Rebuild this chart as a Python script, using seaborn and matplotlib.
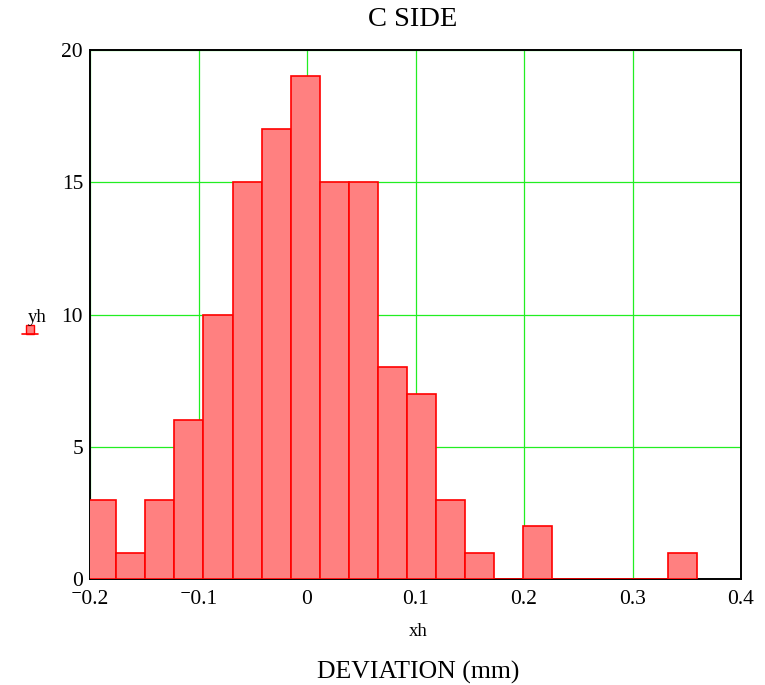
import matplotlib
matplotlib.use("Agg")
import matplotlib.pyplot as plt
import seaborn as sns
import numpy as np
import pandas as pd
from matplotlib.patches import Rectangle

sns.set_style("white")
plt.rcParams['font.family'] = ['Liberation Serif', 'DejaVu Serif']
plt.rcParams['text.color'] = 'black'

# Data
bin_start = -0.2024
bin_width = 0.02675
counts = [3, 1, 3, 6, 10, 15, 17, 19, 15, 15, 8, 7, 3, 1, 0, 2, 0, 0, 0, 0, 1]
x_ticks = [-0.2, -0.1, 0, 0.1, 0.2, 0.3, 0.4]
x_tick_labels = ["\u207b0.2", "\u207b0.1", "0", "0.1", "0.2", "0.3", "0.4"]
y_ticks = [0, 5, 10, 15, 20]
title = "C SIDE"
x_label = "xh"
x_caption = "DEVIATION (mm)"
y_label = "yh"

n_bins = len(counts)
bin_end = bin_start + bin_width * n_bins
centers = bin_start + bin_width * (np.arange(n_bins) + 0.5)
df = pd.DataFrame({"xh": centers, "yh": np.array(counts, dtype=float)})

fig = plt.figure(figsize=(7.65, 6.85), dpi=100)
ax = fig.add_axes([90/765, 1-579/685, (741-90)/765, (579-50)/685])

sns.histplot(data=df, x="xh", weights="yh", bins=n_bins,
             binrange=(bin_start, bin_end), ax=ax,
             color="#ff8080", edgecolor="#ff0000", linewidth=1.2, alpha=1.0,
             zorder=3)

ax.set_xlim(-0.2, 0.4)
ax.set_ylim(0, 20)
ax.set_xticks(x_ticks)
ax.set_xticklabels(x_tick_labels)
ax.set_yticks(y_ticks)
ax.tick_params(axis='both', length=0, labelsize=15.5, colors='black',
               labelcolor='black')
ax.tick_params(axis='y', pad=5)
ax.tick_params(axis='x', pad=8)
ax.grid(True, color="#22ee22", linewidth=0.9, zorder=1)
ax.set_axisbelow(True)
for s in ax.spines.values():
    s.set_color("black")
    s.set_linewidth(1.4)
    s.set_visible(True)
ax.set_xlabel("")
ax.set_ylabel("")

fig.text(413/765, 1-19/685, title, ha='center', va='center', fontsize=20.5, color='black')
fig.text(418/765, 1-631/685, x_label, ha='center', va='center', fontsize=13.5, color='black')
fig.text(418/765, 1-672/685, x_caption, ha='center', va='center', fontsize=18.5, color='black')
fig.text(37/765, 1-318/685, y_label, ha='center', va='center', fontsize=13.5, color='black')
# small legend swatch below the yh label
fig.patches.append(Rectangle((26/765, 1-334/685), 8/765, 9/685,
                             transform=fig.transFigure, facecolor="#ff8080",
                             edgecolor="#ff0000", linewidth=1))
fig.lines.append(plt.Line2D([22/765, 38/765], [1-334/685, 1-334/685],
                            transform=fig.transFigure, color="#ff0000", linewidth=1.2))

fig.savefig("out.png", dpi=100)
